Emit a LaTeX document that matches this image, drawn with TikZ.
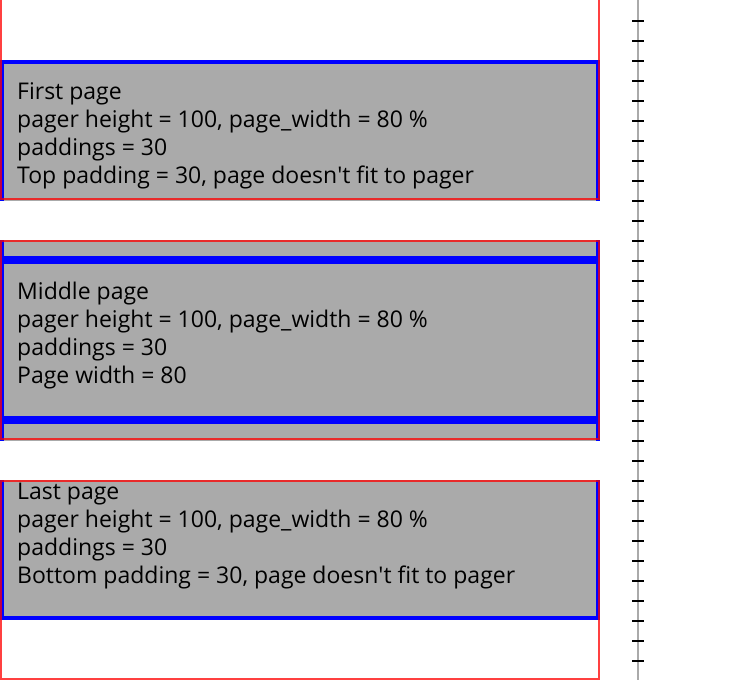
\documentclass[tikz,border=0pt]{standalone}
\usepackage{fontspec}
\setmainfont{Open Sans}
\definecolor{pagegray}{RGB}{170,170,170}
\definecolor{rulergray}{RGB}{170,170,170}
\begin{document}
\begin{tikzpicture}[x=1pt,y=-1pt,
  frame/.style={draw=red, draw opacity=0.75, line width=2pt},
  pagebox/.style={fill=pagegray, draw=blue, line width=4pt},
  tickmark/.style={draw=black, line width=2pt},
  rulerline/.style={draw=rulergray, line width=2.5pt},
  caption/.style={anchor=base west, inner sep=0pt, font=\fontsize{23}{28}\selectfont}]
\useasboundingbox (0,0) rectangle (750,680);

% first pager: page starts after the top padding and runs past the bottom
\begin{scope}
  \clip (0,0) rectangle (600,200);
  \draw[pagebox] (2,62) rectangle (598,218);
\end{scope}
\draw[frame] (1,-1) rectangle (599,199);

% middle pager: neighbouring pages peek in above and below
\begin{scope}
  \clip (0,240) rectangle (600,440);
  \draw[pagebox] (2,102) rectangle (598,258);
  \draw[pagebox] (2,262) rectangle (598,418);
  \draw[pagebox] (2,422) rectangle (598,578);
\end{scope}
\draw[frame] (1,241) rectangle (599,439);

% last pager: page ends before the bottom padding
\begin{scope}
  \clip (0,480) rectangle (600,680);
  \draw[pagebox] (2,462) rectangle (598,618);
\end{scope}
\draw[frame] (1,481) rectangle (599,679);

% captions
\node[caption] (first1) at (17,99) {First page};
\node[caption] (first2) at (17,127) {pager height = 100, page\_width = 80 \%};
\node[caption] (first3) at (17,155) {paddings = 30};
\node[caption] (first4) at (17,183) {Top padding = 30, page doesn\textquotesingle t fit to pager};

\node[caption] (middle1) at (17,299) {Middle page};
\node[caption] (middle2) at (17,327) {pager height = 100, page\_width = 80 \%};
\node[caption] (middle3) at (17,355) {paddings = 30};
\node[caption] (middle4) at (17,383) {Page width = 80};

\node[caption] (last1) at (17,499) {Last page};
\node[caption] (last2) at (17,527) {pager height = 100, page\_width = 80 \%};
\node[caption] (last3) at (17,555) {paddings = 30};
\node[caption] (last4) at (17,583) {Bottom padding = 30, page doesn\textquotesingle t fit to pager};

% ruler with a tick every 20 units
\draw[rulerline] (638,0) -- (638,680);
\foreach \k in {0,...,32}
  \draw[tickmark] (632,{21+20*\k}) -- (644,{21+20*\k});
\end{tikzpicture}
\end{document}
